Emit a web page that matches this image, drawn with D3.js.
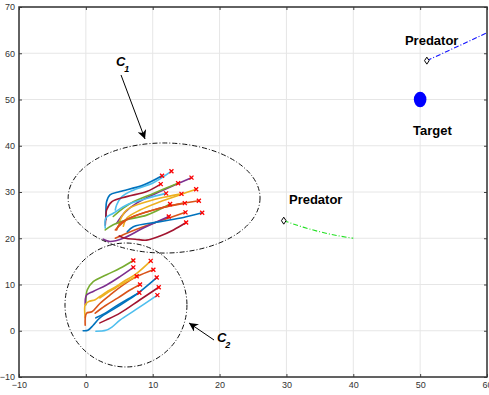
<!DOCTYPE html>
<html>
<head>
<meta charset="utf-8">
<script src="https://cdn.jsdelivr.net/npm/d3@7"></script>
<style>
  body { margin: 0; background: #fff; }
</style>
</head>
<body>
<script>
const width = 489;
const height = 395;
const marginTop = 7;
const marginRight = 2;
const marginBottom = 18;
const marginLeft = 19;

// axis ticks
const xTicks = [-10, 0, 10, 20, 30, 40, 50, 60];
const yTicks = [-10, 0, 10, 20, 30, 40, 50, 60, 70];

// cluster C1 trajectories (data coords)
const c1Paths = [
    [[4.4, 26.1], [4.6, 27.2], [5.4, 29.0], [7.1, 30.4], [10.1, 32.0], [12.8, 34.5]],
    [[3.0, 24.0], [3.0, 26.1], [3.1, 27.9], [3.6, 29.4], [5.1, 30.1], [8.6, 31.5], [11.4, 33.5]],
    [[2.9, 22.8], [3.0, 24.7], [3.1, 26.1], [3.9, 27.9], [6.1, 29.0], [9.1, 30.1], [11.2, 31.7]],
    [[4.6, 23.2], [5.9, 25.7], [7.6, 27.6], [11.1, 30.1], [15.8, 33.1]],
    [[4.1, 24.7], [5.6, 26.5], [7.1, 27.9], [10.1, 29.7], [13.8, 31.9]],
    [[2.9, 22.2], [3.0, 24.4], [4.1, 25.4], [6.1, 27.2], [9.1, 28.6], [12.0, 29.7]],
    [[4.9, 23.2], [6.1, 26.1], [9.1, 27.9], [12.1, 29.0], [14.3, 29.6]],
    [[5.6, 22.6], [6.1, 24.3], [8.1, 26.1], [11.1, 27.9], [14.1, 29.4], [16.5, 30.6]],
    [[2.9, 21.8], [4.1, 22.9], [6.1, 24.0], [9.1, 25.0], [12.6, 27.4]],
    [[4.6, 21.8], [5.1, 23.2], [7.6, 25.0], [11.1, 26.5], [14.8, 27.6]],
    [[4.4, 21.8], [6.1, 24.0], [9.1, 25.7], [13.1, 27.2], [16.9, 28.1]],
    [[4.4, 20.0], [6.1, 21.1], [8.6, 22.5], [11.6, 24.0], [14.9, 25.6]],
    [[2.6, 19.8], [3.6, 19.3], [5.6, 20.0], [8.6, 22.2], [12.4, 24.7]],
    [[6.2, 21.4], [7.1, 22.5], [11.1, 23.6], [14.6, 24.5], [17.4, 25.5]],
    [[5.0, 20.5], [5.9, 20.0], [7.4, 19.8], [9.1, 19.6], [11.1, 20.5], [13.1, 21.8], [15.0, 23.4]]
];
const c1Colors = ["#4DBEEE", "#0072BD", "#A2142F", "#7E2F8E", "#77AC30", "#4DBEEE", "#EDB120",
    "#EDB120", "#77AC30", "#D95319", "#D95319", "#D95319", "#7E2F8E", "#0072BD", "#A2142F"];

// cluster C2 trajectories (data coords)
const c2Paths = [
    [[0.0, 5.6], [0.0, 6.3], [0.2, 8.8], [1.1, 10.6], [3.1, 12.1], [5.1, 13.5], [7.1, 15.2]],
    [[-0.1, 5.6], [0.1, 7.7], [1.1, 8.5], [3.1, 9.9], [5.1, 11.7], [7.1, 13.7]],
    [[-0.1, 2.8], [-0.1, 5.6], [0.4, 6.3], [1.4, 6.7], [2.1, 7.4], [3.1, 8.4], [4.1, 9.2], [5.6, 10.6], [7.6, 12.4], [9.7, 15.1]],
    [[-0.1, 1.2], [0.1, 3.8], [0.9, 4.1], [2.1, 5.9], [3.6, 7.7], [5.6, 9.9], [7.6, 11.7], [10.1, 13.2]],
    [[2.1, 7.1], [3.1, 8.1], [4.4, 9.2], [5.9, 10.5], [7.6, 11.8]],
    [[1.4, 3.8], [2.9, 5.4], [4.8, 7.1], [6.6, 8.8], [8.1, 10.0]],
    [[1.5, 2.8], [2.9, 3.8], [4.8, 5.6], [6.6, 7.1], [8.0, 8.2]],
    [[-0.4, 0.0], [0.3, 0.1], [1.1, 1.2], [2.1, 2.8], [4.4, 4.9], [7.4, 7.7], [10.6, 11.5]],
    [[2.1, 1.7], [3.0, 2.3], [5.1, 3.8], [8.1, 6.7], [10.9, 9.4]],
    [[1.5, -0.1], [3.0, 0.1], [3.9, 0.8], [5.1, 2.3], [7.4, 4.5], [10.7, 7.7]]
];
const c2Colors = ["#77AC30", "#7E2F8E", "#EDB120", "#D95319", "#EDB120",
    "#D95319", "#0072BD", "#0072BD", "#A2142F", "#4DBEEE"];

// cluster outlines: [cx, cy, rx, ry] in data units
const clusterEllipses = [[11.7, 28.7, 14.35, 11.9], [6.0, 5.57, 9.12, 13.4]];

// predators and target
const predator1Path = [[29.6, 23.8], [32.5, 22.4], [35.0, 21.4], [37.5, 20.6], [40.0, 20.0]];
const predator2Path = [[51.0, 58.4], [55.5, 61.4], [61.0, 65.1]];
const targetPos = [50, 50];

// annotation text and arrows
const labels = [
    { text: "Predator", x: 30.38, y: 27.4 },
    { text: "Predator", x: 47.73, y: 61.8 },
    { text: "Target", x: 48.93, y: 42.3 }
];
const clusterLabels = [
    { sub: "1", x: 4.5, y: 57.2 },
    { sub: "2", x: 19.6, y: -2.4 }
];
const arrows = [
    [[5.26, 55.3], [8.85, 41.46]],
    [[19.17, -2.0], [15.43, 1.68]]
];

const svg = d3.select("body")
    .append("svg")
    .attr("width", width)
    .attr("height", height);

const xScale = d3.scaleLinear().domain([-10, 60]).range([marginLeft, width - marginRight]);
const yScale = d3.scaleLinear().domain([-10, 70]).range([height - marginBottom, marginTop]);

svg.append("defs").append("clipPath")
    .attr("id", "plot-clip")
    .append("rect")
    .attr("x", marginLeft)
    .attr("y", marginTop)
    .attr("width", width - marginLeft - marginRight)
    .attr("height", height - marginTop - marginBottom);

svg.select("defs").append("marker")
    .attr("id", "arrowhead")
    .attr("viewBox", "0 0 10 10")
    .attr("refX", 10)
    .attr("refY", 5)
    .attr("markerWidth", 9)
    .attr("markerHeight", 9)
    .attr("markerUnits", "userSpaceOnUse")
    .attr("orient", "auto")
    .append("path")
    .attr("d", "M0,0 L10,5 L0,10 L3,5 Z")
    .attr("fill", "#000");

// grid
svg.append("g")
    .selectAll("line")
    .data(xTicks)
    .join("line")
    .attr("x1", d => xScale(d))
    .attr("x2", d => xScale(d))
    .attr("y1", marginTop)
    .attr("y2", height - marginBottom)
    .attr("stroke", "#e6e6e6")
    .attr("stroke-width", 1);

svg.append("g")
    .selectAll("line")
    .data(yTicks)
    .join("line")
    .attr("x1", marginLeft)
    .attr("x2", width - marginRight)
    .attr("y1", d => yScale(d))
    .attr("y2", d => yScale(d))
    .attr("stroke", "#e6e6e6")
    .attr("stroke-width", 1);

// axes
const tickFont = "'Liberation Sans Narrow', 'Arial Narrow', 'Liberation Sans', sans-serif";

const xAxis = svg.append("g")
    .attr("transform", "translate(0," + (height - marginBottom) + ")")
    .call(d3.axisBottom(xScale).tickValues(xTicks).tickSizeInner(-3).tickSizeOuter(0).tickPadding(5));
const yAxis = svg.append("g")
    .attr("transform", "translate(" + marginLeft + ",0)")
    .call(d3.axisLeft(yScale).tickValues(yTicks).tickSizeInner(-3).tickSizeOuter(0).tickPadding(4));
svg.append("g")
    .attr("transform", "translate(0," + marginTop + ")")
    .call(d3.axisTop(xScale).tickValues(xTicks).tickSizeInner(-3).tickSizeOuter(0).tickFormat(""));
svg.append("g")
    .attr("transform", "translate(" + (width - marginRight) + ",0)")
    .call(d3.axisRight(yScale).tickValues(yTicks).tickSizeInner(-3).tickSizeOuter(0).tickFormat(""));

svg.selectAll(".domain").remove();
svg.selectAll(".tick line").attr("stroke", "#404040").attr("stroke-width", 1);
[xAxis, yAxis].forEach(a => a.selectAll("text")
    .attr("font-size", "9px")
    .attr("font-family", tickFont)
    .attr("fill", "#333"));

svg.append("rect")
    .attr("x", marginLeft)
    .attr("y", marginTop)
    .attr("width", width - marginLeft - marginRight)
    .attr("height", height - marginTop - marginBottom)
    .attr("fill", "none")
    .attr("stroke", "#333")
    .attr("stroke-width", 1.5);

const plot = svg.append("g").attr("clip-path", "url(#plot-clip)");

// trajectories
const line = d3.line()
    .x(d => xScale(d[0]))
    .y(d => yScale(d[1]))
    .curve(d3.curveCatmullRom.alpha(0.5));

function drawCluster(paths, colors) {
    plot.append("g")
        .selectAll("path")
        .data(paths)
        .join("path")
        .attr("d", line)
        .attr("fill", "none")
        .attr("stroke", (d, i) => colors[i])
        .attr("stroke-width", 1.6)
        .attr("stroke-linecap", "round");

    const ends = paths.map(p => p[p.length - 1]);
    plot.append("g")
        .selectAll("path")
        .data(ends)
        .join("path")
        .attr("d", d => {
            const cx = xScale(d[0]);
            const cy = yScale(d[1]);
            const s = 2;
            return "M" + (cx - s) + "," + (cy - s) + "L" + (cx + s) + "," + (cy + s) +
                "M" + (cx - s) + "," + (cy + s) + "L" + (cx + s) + "," + (cy - s);
        })
        .attr("stroke", "#ff0000")
        .attr("stroke-width", 1.3);
}
drawCluster(c1Paths, c1Colors);
drawCluster(c2Paths, c2Colors);

// cluster outlines
plot.append("g")
    .selectAll("ellipse")
    .data(clusterEllipses)
    .join("ellipse")
    .attr("cx", d => xScale(d[0]))
    .attr("cy", d => yScale(d[1]))
    .attr("rx", d => xScale(d[0] + d[2]) - xScale(d[0]))
    .attr("ry", d => yScale(d[1]) - yScale(d[1] + d[3]))
    .attr("fill", "none")
    .attr("stroke", "#111")
    .attr("stroke-width", 1)
    .attr("stroke-dasharray", "5,2,1,2");

// predators
const straight = d3.line()
    .x(d => xScale(d[0]))
    .y(d => yScale(d[1]))
    .curve(d3.curveMonotoneX);

plot.append("path")
    .attr("d", straight(predator1Path))
    .attr("fill", "none")
    .attr("stroke", "#22e022")
    .attr("stroke-width", 1.1)
    .attr("stroke-dasharray", "5,2,1,2");

plot.append("path")
    .attr("d", straight(predator2Path))
    .attr("fill", "none")
    .attr("stroke", "#1010ff")
    .attr("stroke-width", 1.1)
    .attr("stroke-dasharray", "5,2,1,2");

plot.append("g")
    .selectAll("path")
    .data([predator1Path[0], predator2Path[0]])
    .join("path")
    .attr("d", d => {
        const cx = xScale(d[0]);
        const cy = yScale(d[1]);
        return "M" + cx + "," + (cy - 3.5) + "L" + (cx + 2.3) + "," + cy +
            "L" + cx + "," + (cy + 3.5) + "L" + (cx - 2.3) + "," + cy + "Z";
    })
    .attr("fill", "#fff")
    .attr("stroke", "#000")
    .attr("stroke-width", 1);

// target
plot.append("ellipse")
    .attr("cx", xScale(targetPos[0]))
    .attr("cy", yScale(targetPos[1]))
    .attr("rx", 6.3)
    .attr("ry", 7.8)
    .attr("fill", "#0000ff");

// labels
svg.append("g")
    .selectAll("text")
    .data(labels)
    .join("text")
    .attr("x", d => xScale(d.x))
    .attr("y", d => yScale(d.y))
    .attr("font-family", tickFont)
    .attr("font-weight", "bold")
    .attr("font-size", "13px")
    .attr("fill", "#000")
    .text(d => d.text);

const cl = svg.append("g")
    .selectAll("text")
    .data(clusterLabels)
    .join("text")
    .attr("x", d => xScale(d.x))
    .attr("y", d => yScale(d.y))
    .attr("font-family", "'Liberation Sans', Arial, sans-serif")
    .attr("font-style", "italic")
    .attr("font-weight", "bold")
    .attr("font-size", "13px")
    .attr("fill", "#000");
cl.append("tspan").text("C");
cl.append("tspan")
    .attr("font-size", "9px")
    .attr("dx", -1)
    .attr("dy", 6)
    .text(d => d.sub);

svg.append("g")
    .selectAll("line")
    .data(arrows)
    .join("line")
    .attr("x1", d => xScale(d[0][0]))
    .attr("y1", d => yScale(d[0][1]))
    .attr("x2", d => xScale(d[1][0]))
    .attr("y2", d => yScale(d[1][1]))
    .attr("stroke", "#000")
    .attr("stroke-width", 1)
    .attr("marker-end", "url(#arrowhead)");
</script>
</body>
</html>
